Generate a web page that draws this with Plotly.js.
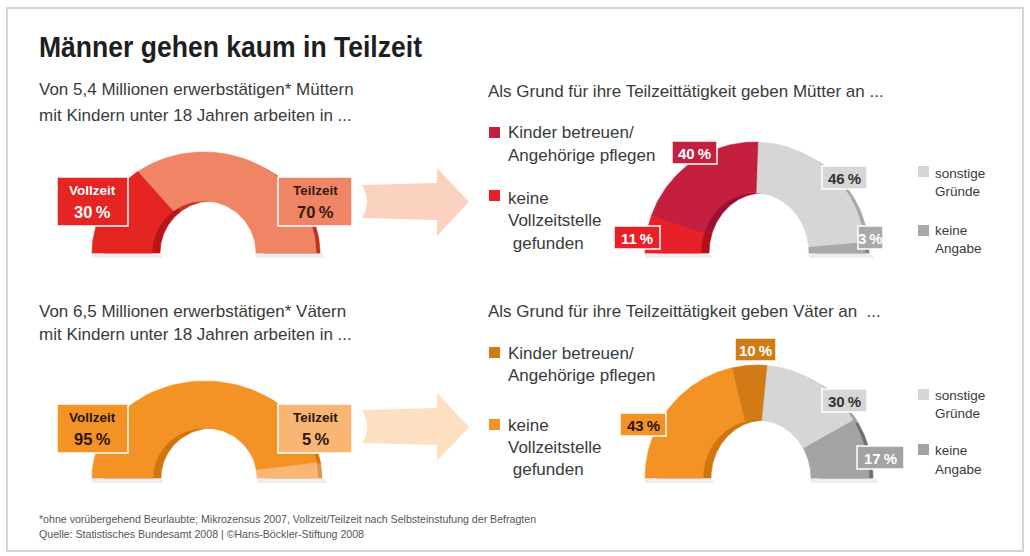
<!DOCTYPE html>
<html><head><meta charset="utf-8">
<script src="https://cdn.plot.ly/plotly-3.0.1.min.js"></script>
<style>html,body{margin:0;padding:0;background:#fff}</style>
</head><body><div id="chart" style="width:1030px;height:556px"></div>
<script>
// ---------- data ----------
const workCategories = ['Vollzeit', 'Teilzeit'];
const motherWorkValues = [30, 70];
const fatherWorkValues = [95, 5];
const reasonCategories = ['keine Vollzeitstelle gefunden', 'Kinder betreuen/Angehörige pflegen', 'sonstige Gründe', 'keine Angabe'];
const reasonLabelLines = [['keine', 'Vollzeitstelle', ' gefunden'], ['Kinder betreuen/', 'Angehörige pflegen'], ['sonstige', 'Gründe'], ['keine', 'Angabe']];
const motherReasonValues = [11, 40, 46, 3];
const fatherReasonValues = [43, 10, 30, 17];

const titleText = 'Männer gehen kaum in Teilzeit';
const motherIntro = ['Von 5,4 Millionen erwerbstätigen* Müttern', 'mit Kindern unter 18 Jahren arbeiten in ...'];
const fatherIntro = ['Von 6,5 Millionen erwerbstätigen* Vätern', 'mit Kindern unter 18 Jahren arbeiten in ...'];
const motherReasonIntro = 'Als Grund für ihre Teilzeittätigkeit geben Mütter an ...';
const fatherReasonIntro = 'Als Grund für ihre Teilzeittätigkeit geben Väter an  ...';
const footnotes = ['*ohne vorübergehend Beurlaubte; Mikrozensus 2007, Vollzeit/Teilzeit nach Selbsteinstufung der Befragten',
                   'Quelle: Statistisches Bundesamt 2008 | ©Hans-Böckler-Stiftung 2008'];

// ---------- styles ----------
const FONT = 'Liberation Sans, Arial, sans-serif';
const TXT = '#3a3a3a';

const donuts = [
  {values: motherWorkValues, cx: 204, cy: 253, rxo: 112, ryo: 101, rxi: 52, ryi: 52,
   colors: ['#e42522', '#f08566'], dark: ['#b8141a', '#c4301f']},
  {values: fatherWorkValues, cx: 205, cy: 478, rxo: 113, ryo: 97, rxi: 52, ryi: 50,
   colors: ['#f39325', '#f8b574'], dark: ['#d0760f', '#d9954c']},
  {values: motherReasonValues, cx: 755, cy: 253, rxo: 110, ryo: 111, rxi: 54, ryi: 60,
   colors: ['#e8202a', '#c41f3e', '#d6d6d6', '#a9a9a9'], dark: ['#b0101a', '#98122f', '#a6a6a6', '#7c7c7c']},
  {values: fatherReasonValues, cx: 757, cy: 478, rxo: 112, ryo: 113, rxi: 54, ryi: 58,
   colors: ['#f39325', '#d17b16', '#d6d6d6', '#a3a3a3'], dark: ['#d0760f', '#a8600c', '#a0a0a0', '#6f6f6f']}
];
const DEPTH = 8, RIM = 4;

function segment(d, f1, f2, dx, shrink) {
  const N = 60, xs = [], ys = [];
  const rxo = d.rxo - shrink, ryo = d.ryo - shrink;
  for (let i = 0; i <= N; i++) {
    const p = Math.PI * (f1 + (f2 - f1) * i / N);
    xs.push(d.cx + dx - rxo * Math.cos(p)); ys.push(d.cy - ryo * Math.sin(p));
  }
  for (let i = N; i >= 0; i--) {
    const p = Math.PI * (f1 + (f2 - f1) * i / N);
    xs.push(d.cx + dx - d.rxi * Math.cos(p)); ys.push(d.cy - d.ryi * Math.sin(p));
  }
  xs.push(xs[0]); ys.push(ys[0]);
  return {xs, ys};
}

const traces = [];
donuts.forEach(d => {
  // soft shadow under the two feet
  [[d.cx - d.rxo - 2, d.cx - d.rxi + DEPTH], [d.cx + d.rxi - 2, d.cx + d.rxo + RIM + 2]].forEach(([a, b]) => {
    traces.push({type: 'scatter', mode: 'lines', x: [a, b, b + 3, a + 3, a], y: [d.cy, d.cy, d.cy + 5, d.cy + 5, d.cy],
      fill: 'toself', fillcolor: 'rgba(0,0,0,0.07)', line: {width: 0}, hoverinfo: 'skip', showlegend: false});
  });
  const total = d.values.reduce((a, b) => a + b, 0);
  for (const layer of ['back', 'front']) {
    let acc = 0;
    d.values.forEach((v, i) => {
      const f1 = acc / total, f2 = (acc + v) / total; acc += v;
      const back = layer === 'back';
      const s = segment(d, f1, f2, back ? DEPTH : 0, back ? DEPTH - RIM : 0);
      const c = back ? d.dark[i] : d.colors[i];
      traces.push({type: 'scatter', mode: 'lines', x: s.xs, y: s.ys, fill: 'toself',
        fillcolor: c, line: {color: c, width: 0.6}, hoverinfo: 'skip', showlegend: false});
    });
  }
});

const shapes = [];
const annotations = [];
function txt(x, y, text, size, color, opts = {}) {
  annotations.push(Object.assign({xref: 'x', yref: 'y', x, y, text, showarrow: false,
    xanchor: 'left', yanchor: 'middle', font: {family: FONT, size, color}}, opts));
}
function box(x0, y0, x1, y1, fill) {
  shapes.push({type: 'rect', xref: 'x', yref: 'y', x0, y0, x1, y1, fillcolor: fill,
    line: {color: '#ffffff', width: 1.5}, layer: 'above'});
}
const pct = v => v + '\u2009%';

// frame
shapes.push({type: 'rect', xref: 'x', yref: 'y', x0: 7, y0: 8, x1: 1023, y1: 551,
  line: {color: '#d4d4d4', width: 2}, fillcolor: 'rgba(0,0,0,0)', layer: 'below'});

// arrows
function arrow(dy, fill) {
  const p = (x, y) => x + ',' + (y + dy);
  return {type: 'path', xref: 'x', yref: 'y', fillcolor: fill, line: {width: 0}, layer: 'below',
    path: 'M' + p(362, 185) + ' L' + p(437, 183) + ' L' + p(437, 168) + ' L' + p(469, 202) +
          ' L' + p(437, 236) + ' L' + p(437, 220) + ' L' + p(362, 218) + ' Q' + p(372, 202) + ' ' + p(362, 185) + ' Z'};
}
shapes.push(arrow(0, '#fbd2bf'));
shapes.push(arrow(225, '#fde0c2'));

// title & intros
txt(37, 47, titleText, 29, '#1e1e1e', {font: {family: FONT, size: 29, color: '#1e1e1e', weight: 700}});
txt(37, 89, motherIntro[0], 17, TXT);
txt(37, 115, motherIntro[1], 17, TXT);
txt(486, 91, motherReasonIntro, 17, TXT);
txt(37, 311, fatherIntro[0], 17, TXT);
txt(37, 334, fatherIntro[1], 17, TXT);
txt(486, 311, fatherReasonIntro, 17, TXT);
txt(37, 519, footnotes[0], 10.6, '#555');
txt(37, 534, footnotes[1], 10.6, '#555');

// work-split boxes (left donuts)
const workBoxes = [
  {d: 0, i: 0, x0: 57, x1: 128, y0: 177, tc: '#ffffff'},
  {d: 0, i: 1, x0: 278, x1: 352, y0: 177, tc: '#3a1a10'},
  {d: 1, i: 0, x0: 57, x1: 128, y0: 404, tc: '#2a1606'},
  {d: 1, i: 1, x0: 278, x1: 352, y0: 404, tc: '#2a1606'}
];
workBoxes.forEach(b => {
  const d = donuts[b.d];
  box(b.x0, b.y0, b.x1, b.y0 + 49, d.colors[b.i]);
  const xc = (b.x0 + b.x1) / 2;
  txt(xc, b.y0 + 13, '<b>' + workCategories[b.i] + '</b>', 13.5, b.tc, {xanchor: 'center'});
  txt(xc, b.y0 + 35, '<b>' + pct(d.values[b.i]) + '</b>', 16.5, b.tc, {xanchor: 'center'});
});

// reason boxes (right donuts)
const reasonBoxes = [
  {d: 2, i: 0, x0: 614, x1: 660, y0: 226, tc: '#ffffff'},
  {d: 2, i: 1, x0: 672, x1: 717, y0: 141, tc: '#ffffff'},
  {d: 2, i: 2, x0: 822, x1: 867, y0: 166, tc: '#333333'},
  {d: 2, i: 3, x0: 858, x1: 883, y0: 226, tc: '#ffffff'},
  {d: 3, i: 0, x0: 620, x1: 666, y0: 413, tc: '#2a1606'},
  {d: 3, i: 1, x0: 735, x1: 776, y0: 338, tc: '#ffffff'},
  {d: 3, i: 2, x0: 822, x1: 867, y0: 389, tc: '#333333'},
  {d: 3, i: 3, x0: 857, x1: 904, y0: 446, tc: '#ffffff'}
];
reasonBoxes.forEach(b => {
  const d = donuts[b.d];
  box(b.x0, b.y0, b.x1, b.y0 + 23, d.colors[b.i]);
  txt((b.x0 + b.x1) / 2, b.y0 + 12, '<b>' + pct(d.values[b.i]) + '</b>', 15, b.tc, {xanchor: 'center'});
});

// category labels with colour squares
function legendBlock(d, i, sqx, sqy, tx, lineYs) {
  shapes.push({type: 'rect', xref: 'x', yref: 'y', x0: sqx, y0: sqy, x1: sqx + 11, y1: sqy + 11,
    fillcolor: donuts[d].colors[i], line: {width: 0}});
  reasonLabelLines[i].forEach((t, k) => txt(tx, lineYs[k], t, i > 1 ? 13.5 : 17, TXT));
}
legendBlock(2, 1, 489, 127, 506, [132, 155]);
legendBlock(2, 0, 489, 190, 506, [198, 220, 243]);
legendBlock(2, 2, 918, 166, 933, [173, 191]);
legendBlock(2, 3, 918, 225, 933, [230, 248]);
legendBlock(3, 1, 489, 347, 506, [353, 375]);
legendBlock(3, 0, 489, 419, 506, [425, 447, 469]);
legendBlock(3, 2, 918, 389, 933, [395, 413]);
legendBlock(3, 3, 918, 444, 933, [450, 469]);

const layout = {
  width: 1030, height: 556, margin: {l: 0, r: 0, t: 0, b: 0},
  paper_bgcolor: '#ffffff', plot_bgcolor: '#ffffff',
  xaxis: {range: [0, 1030], visible: false, fixedrange: true},
  yaxis: {range: [556, 0], visible: false, fixedrange: true},
  shapes, annotations, showlegend: false
};
Plotly.newPlot('chart', traces, layout, {staticPlot: true, displayModeBar: false}).then(() => {
  // condense the headline to the narrow width of the original
  const t = document.querySelector('.annotation[data-index="0"] text.annotation-text');
  if (t) {
    const bb = t.getBBox();
    t.setAttribute('text-anchor', 'start');
    t.setAttribute('x', bb.x);
    t.setAttribute('textLength', 383);
    t.setAttribute('lengthAdjust', 'spacingAndGlyphs');
  }
});
</script></body></html>
